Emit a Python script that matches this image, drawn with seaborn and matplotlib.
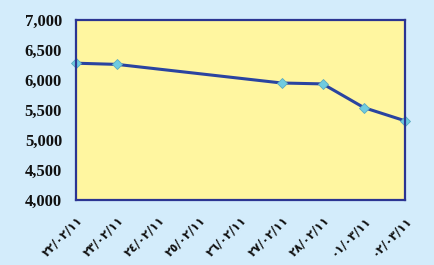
import matplotlib
matplotlib.use("Agg")
import matplotlib.pyplot as plt
import seaborn as sns
import pandas as pd

tick_labels = ["٢٢/٠٢/١١", "٢٣/٠٢/١١", "٢٤/٠٢/١١", "٢٥/٠٢/١١", "٢٦/٠٢/١١",
               "٢٧/٠٢/١١", "٢٨/٠٢/١١", "٠١/٠٣/١١", "٠٢/٠٣/١١"]
point_dates = ["٢٢/٠٢/١١", "٢٣/٠٢/١١", "٢٧/٠٢/١١", "٢٨/٠٢/١١", "٠١/٠٣/١١", "٠٢/٠٣/١١"]
values = [6280, 6260, 5950, 5935, 5540, 5320]
y_ticks = [4000, 4500, 5000, 5500, 6000, 6500, 7000]

sns.set_style("white")
plt.rcParams['font.family'] = ['Liberation Serif', 'DejaVu Sans']

df = pd.DataFrame({"pos": [tick_labels.index(d) for d in point_dates], "value": values})

bg = "#d3ecfb"
fig = plt.figure(figsize=(4.35, 2.65), dpi=100, facecolor=bg)
ax = fig.add_axes([76/435, 1 - 200/265, (405-76)/435, 180/265])
ax.set_facecolor("#fff6a0")

sns.lineplot(data=df, x="pos", y="value", ax=ax, color="#2a44a0", linewidth=2.2,
             marker="D", markersize=5.5, markerfacecolor="#6fcbe0",
             markeredgecolor="#5aaac0", markeredgewidth=0.6, clip_on=False)

ax.set_xlim(0, len(tick_labels) - 1)
ax.set_ylim(4000, 7000)
ax.set_xticks(range(len(tick_labels)))
ax.set_xticklabels(tick_labels, rotation=45, ha="right", rotation_mode="anchor",
                   fontsize=8.5, fontweight="bold", family=['DejaVu Sans'])
ax.set_yticks(y_ticks)
ax.set_yticklabels([f"{v:,}" for v in y_ticks], fontsize=12, fontweight="bold")
ax.set_xlabel("")
ax.set_ylabel("")
for s in ax.spines.values():
    s.set_color("#2b3592")
    s.set_linewidth(1.6)
ax.tick_params(axis="both", which="both", direction="out", length=3, width=1,
               color="#555a80", labelcolor="#111111")
ax.tick_params(axis="y", pad=7)
ax.tick_params(axis="x", pad=7)
ax.grid(False)

fig.savefig("out.png", dpi=100, facecolor=bg)
